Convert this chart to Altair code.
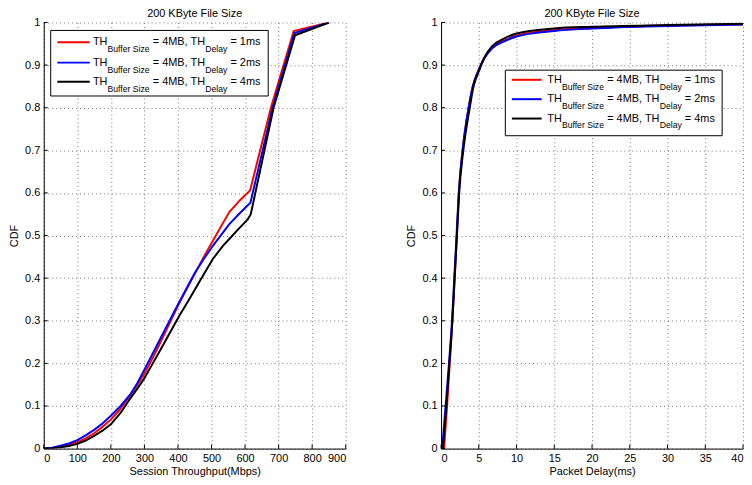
import altair as alt
import pandas as pd

FONT = "Liberation Sans"

# ---------------- data: left panel (Session Throughput CDF) ----------------
tp_red_x = [0, 25, 50, 75, 100, 125, 150, 175, 200, 225, 250, 275, 300, 325, 350, 375, 400, 425, 450,
            475, 510, 553, 585, 615, 677, 745, 850]
tp_red_y = [0, 0.001, 0.005, 0.009, 0.015, 0.024, 0.036, 0.051, 0.068, 0.09, 0.117, 0.145, 0.175, 0.213,
            0.253, 0.294, 0.335, 0.373, 0.41, 0.447, 0.496, 0.555, 0.583, 0.606, 0.80, 0.98, 1.0]

tp_blue_x = [0, 25, 50, 75, 100, 125, 150, 175, 200, 229, 258, 280, 300, 325, 350, 375, 400, 425, 450,
             477, 504, 553, 590, 616, 682, 747, 850]
tp_blue_y = [0, 0.002, 0.007, 0.012, 0.02, 0.031, 0.044, 0.059, 0.077, 0.1, 0.127, 0.155, 0.185, 0.223,
             0.262, 0.3, 0.338, 0.375, 0.412, 0.445, 0.476, 0.527, 0.557, 0.577, 0.80, 0.975, 1.0]

tp_black_x = [0, 25, 50, 75, 100, 125, 150, 175, 200, 230, 258, 280, 300, 325, 350, 378, 405, 435, 470,
              504, 534, 553, 580, 608, 617, 685, 749, 850]
tp_black_y = [0, 0.001, 0.003, 0.006, 0.011, 0.019, 0.03, 0.042, 0.057, 0.085, 0.118, 0.142, 0.165, 0.2,
              0.235, 0.275, 0.313, 0.352, 0.4, 0.445, 0.476, 0.492, 0.515, 0.538, 0.55, 0.80, 0.97, 1.0]

# ---------------- data: right panel (Packet Delay CDF) ----------------
pd_red_x = [0.4, 0.8, 1.15, 1.5, 1.8, 2.1, 2.35, 2.85, 3.65, 4.2, 4.9, 5.7, 6.8, 8.4, 10, 15, 20, 30, 40]
pd_red_y = [0, 0.1, 0.2, 0.3, 0.4, 0.5, 0.6, 0.7, 0.8, 0.85, 0.886, 0.916, 0.942, 0.958, 0.969, 0.982, 0.987, 0.993, 0.996]

pd_blue_x = [0.15, 0.6, 1.05, 1.45, 1.75, 2.05, 2.35, 2.85, 3.65, 4.2, 4.9, 5.7, 6.8, 8.4, 10, 15, 20, 30, 40]
pd_blue_y = [0, 0.1, 0.2, 0.3, 0.4, 0.5, 0.6, 0.7, 0.8, 0.85, 0.885, 0.915, 0.94, 0.956, 0.967, 0.98, 0.986, 0.992, 0.995]

pd_black_x = [0.25, 0.7, 1.1, 1.5, 1.8, 2.1, 2.4, 2.95, 3.8, 4.3, 5.0, 5.75, 6.8, 8.4, 10, 15, 20, 30, 40]
pd_black_y = [0, 0.1, 0.2, 0.3, 0.4, 0.5, 0.6, 0.7, 0.8, 0.85, 0.885, 0.918, 0.945, 0.963, 0.974, 0.986, 0.99, 0.994, 0.997]

# ---------------- categories, ticks, labels ----------------
series_names = ["1ms", "2ms", "4ms"]
series_colors = ["#ff0000", "#0000ff", "#000000"]
delay_labels = ["= 1ms", "= 2ms", "= 4ms"]
y_ticks = [0, 0.1, 0.2, 0.3, 0.4, 0.5, 0.6, 0.7, 0.8, 0.9, 1.0]
tp_ticks = [0, 100, 200, 300, 400, 500, 600, 700, 800, 900]
pd_ticks = [0, 5, 10, 15, 20, 25, 30, 35, 40]
panel_title = "200 KByte File Size"

W, H = 304, 429

# Arial / Liberation Sans advance widths (em)
CW = {"T": .611, "H": .722, "B": .667, "u": .556, "f": .278, "e": .556, "r": .333,
      " ": .278, "S": .667, "i": .222, "z": .5, "=": .584, "4": .556, "M": .833,
      ",": .278, "D": .722, "l": .222, "a": .556, "y": .5, "1": .556, "2": .556,
      "m": .833, "s": .5}


def tw(s, size):
    return sum(CW.get(c, .556) for c in s) * size


def make_df(xs_list, ys_list):
    rows = []
    for name, xs, ys in zip(series_names, xs_list, ys_list):
        for i, (x, y) in enumerate(zip(xs, ys)):
            rows.append({"x": x, "y": y, "series": name, "order": i})
    return pd.DataFrame(rows)


one = pd.DataFrame({"k": [0]})


def panel(df, xdomain, xticks, xtitle, box, rows_y, line_x0, line_x1, text_x, interp):
    xenc = alt.X("x:Q", scale=alt.Scale(domain=xdomain, nice=False, zero=False),
                 axis=alt.Axis(values=xticks, title=xtitle, format="d", labelOverlap=False))
    yenc = alt.Y("y:Q", scale=alt.Scale(domain=[0, 1], nice=False),
                 axis=alt.Axis(values=y_ticks, title="CDF", format="~g", labelOverlap=False))

    layers = []
    layers.append(alt.Chart(df).mark_line(strokeWidth=2, interpolate=interp, clip=True).encode(
        x=xenc, y=yenc,
        color=alt.Color("series:N", scale=alt.Scale(domain=series_names, range=series_colors), legend=None),
        order="order:Q"))
    # inner ticks
    layers.append(alt.Chart(pd.DataFrame({"x": xticks})).mark_rule(color="black", strokeWidth=1).encode(
        x=xenc, y=alt.value(H), y2=alt.value(H - 4)))
    layers.append(alt.Chart(pd.DataFrame({"y": y_ticks})).mark_rule(color="black", strokeWidth=1).encode(
        y=yenc, x=alt.value(0), x2=alt.value(4)))

    # panel title
    layers.append(alt.Chart(one).mark_text(font=FONT, fontSize=11, align="center",
                                           baseline="alphabetic", color="black").encode(
        x=alt.value(W / 2), y=alt.value(-6), text=alt.value(panel_title)))

    # legend box
    bx0, bx1, by0, by1 = box
    layers.append(alt.Chart(one).mark_rect(fill="white", stroke="black", strokeWidth=1).encode(
        x=alt.value(bx0), x2=alt.value(bx1), y=alt.value(by0), y2=alt.value(by1)))

    main, sub = 11, 8.7
    for ry, col, dl in zip(rows_y, series_colors, delay_labels):
        layers.append(alt.Chart(one).mark_rule(color=col, strokeWidth=2).encode(
            x=alt.value(line_x0), x2=alt.value(line_x1), y=alt.value(ry)))
        x = text_x
        segs = []
        segs.append(("TH", x, main, 3))
        x += tw("TH", main)
        segs.append(("Buffer Size", x, sub, 10))
        x += tw("Buffer Size", sub) + tw(" ", main)
        segs.append(("= 4MB, TH", x, main, 3))
        x += tw("= 4MB, TH", main)
        segs.append(("Delay", x, sub, 10))
        x += tw("Delay", sub) + tw(" ", main)
        segs.append((dl, x, main, 3))
        for txt, sx, size, dy in segs:
            layers.append(alt.Chart(one).mark_text(font=FONT, fontSize=size, align="left",
                                                   baseline="alphabetic", color="black").encode(
                x=alt.value(sx), y=alt.value(ry + dy), text=alt.value(txt)))

    return alt.layer(*layers).properties(width=W, height=H)


left = panel(make_df([tp_red_x, tp_blue_x, tp_black_x], [tp_red_y, tp_blue_y, tp_black_y]),
             [0, 900], tp_ticks, "Session Throughput(Mbps)",
             (7, 226, 8, 74), [20, 40.4, 59.6], 13.7, 46.3, 49.5, "linear")
right = panel(make_df([pd_red_x, pd_blue_x, pd_black_x], [pd_red_y, pd_blue_y, pd_black_y]),
              [0, 40], pd_ticks, "Packet Delay(ms)",
              (64.7, 283, 48, 114), [57.7, 77.2, 96.7], 71.3, 101.3, 107, "monotone")

chart = alt.hconcat(left, right, spacing=96, bounds="flush").properties(
    padding={"left": 0, "top": -2, "right": 0, "bottom": 0}
).configure_view(stroke=None).configure_axis(
    labelFont=FONT, labelFontSize=11, labelColor="black",
    titleFont=FONT, titleFontSize=11, titleFontWeight="normal", titleColor="black",
    domainColor="black", domainWidth=1, ticks=False,
    grid=True, gridColor="#777777", gridDash=[1, 3], gridWidth=1, gridOpacity=1,
).configure_axisX(labelPadding=4, titlePadding=2).configure_axisY(labelPadding=4, titlePadding=5)

chart.save("out.html", embed_options={"renderer": "svg", "actions": False})
